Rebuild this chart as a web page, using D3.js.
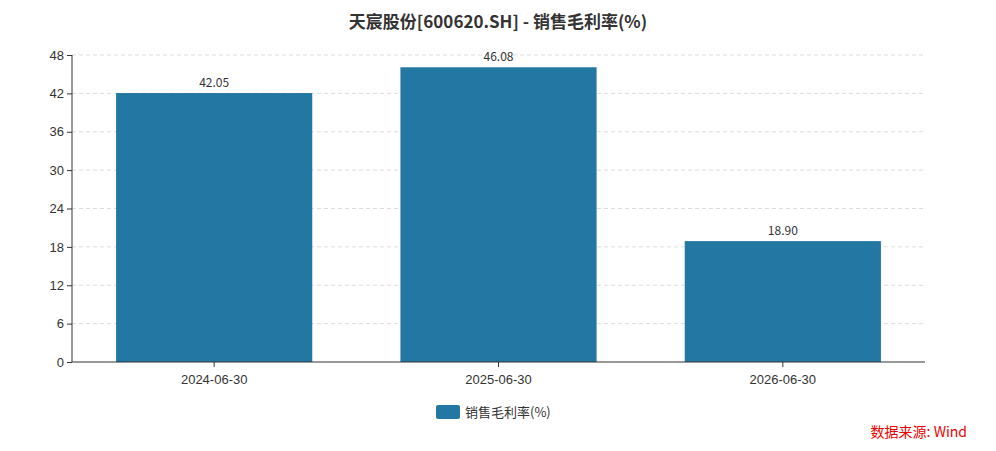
<!DOCTYPE html>
<html><head><meta charset="utf-8">
<script src="https://cdn.jsdelivr.net/npm/d3@7/dist/d3.min.js"></script>
<style>body{margin:0;background:#fff}svg{font-family:"Noto Sans CJK SC","Noto Sans",sans-serif}</style>
</head><body><svg id="c" width="996" height="451"></svg>
<script>
const categories=["2024-06-30","2025-06-30","2026-06-30"];
const values=[42.05,46.08,18.90];
const yTicks=[0,6,12,18,24,30,36,42,48];
const title="天宸股份[600620.SH] - 销售毛利率(%)";
const seriesName="销售毛利率(%)";
const source="数据来源: Wind";
const color="#2277a3";
const svg=d3.select("#c");
const L=72,R=925,T=55,B=362;
const x=d3.scaleBand().domain(categories).range([L,R]).paddingInner(0.31).paddingOuter(0.155);
const y=d3.scaleLinear().domain([0,48]).range([B,T]);
svg.append("text").attr("x",498).attr("y",28).attr("text-anchor","middle").attr("font-size",17).attr("font-weight","bold").attr("fill","#333").text(title);
svg.append("g").selectAll("line").data(yTicks.slice(1)).join("line").attr("x1",L).attr("x2",R).attr("y1",d=>y(d)).attr("y2",d=>y(d)).attr("stroke","#ddd").attr("stroke-dasharray","4,3");
svg.append("g").selectAll("rect").data(values).join("rect").attr("x",(d,i)=>x(categories[i])).attr("width",x.bandwidth()).attr("y",d=>y(d)).attr("height",d=>B-y(d)).attr("fill",color);
svg.append("g").selectAll("text").data(values).join("text").attr("x",(d,i)=>x(categories[i])+x.bandwidth()/2).attr("y",d=>y(d)-6).attr("text-anchor","middle").attr("font-size",12).attr("fill","#333").text(d=>d.toFixed(2));
const ya=svg.append("g").attr("transform",`translate(${L},0)`).call(d3.axisLeft(y).tickValues(yTicks).tickSize(5));
const xa=svg.append("g").attr("transform",`translate(0,${B})`).call(d3.axisBottom(x).tickSize(5).tickSizeOuter(0));
[ya,xa].forEach(a=>{a.selectAll("path,line").attr("stroke","#333");a.selectAll("text").attr("fill","#333").attr("font-size",13);});
ya.select("path").attr("d",`M0,${T}V${B}`);
xa.selectAll(".tick text").attr("dy","1.1em");
xa.select("path").attr("d",`M${L},0H${R}`);
svg.append("rect").attr("x",436).attr("y",405).attr("width",24).attr("height",14).attr("rx",2).attr("fill",color);
svg.append("text").attr("x",465).attr("y",417).attr("font-size",13).attr("fill","#333").text(seriesName);
svg.append("text").attr("x",967).attr("y",437).attr("text-anchor","end").attr("font-size",14).attr("fill","#e00").text(source);
</script></body></html>
